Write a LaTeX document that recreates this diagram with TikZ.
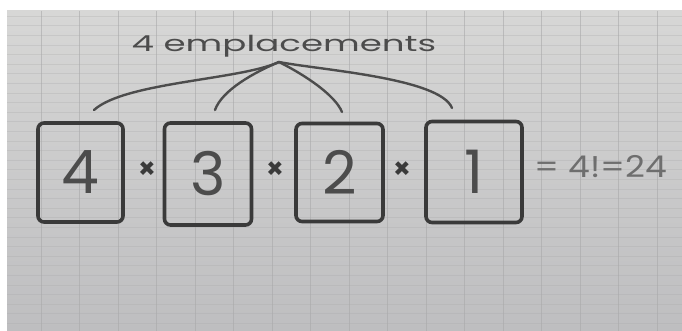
\documentclass[tikz,border=0pt]{standalone}
\usepackage{fontspec}
\setmainfont{Poppins}
\definecolor{paperTop}{HTML}{D7D7D6}
\definecolor{paperBot}{HTML}{BEBEC0}
\definecolor{ink}{HTML}{3A3A3A}
\definecolor{inkB}{HTML}{4C4C4C}
\definecolor{inkL}{HTML}{6E6E6E}
\definecolor{gridc}{HTML}{A9A9AA}
\tikzset{
  slot/.style={draw=ink, line width=3.6pt, rounded corners=6pt, inner sep=0pt},
  digit/.style={text=inkB, font=\fontsize{60}{60}\selectfont},
  times/.style={text=ink, font=\fontsize{28}{28}\selectfont\bfseries, inner sep=0pt},
  brace/.style={draw=inkB, line width=2.4pt, line cap=round},
  gridv/.style={draw=gridc, line width=0.8pt, opacity=0.6},
  gridh/.style={draw=gridc, line width=0.4pt, opacity=0.3},
}
\begin{document}
\begin{tikzpicture}[x=1pt,y=-1pt]
\useasboundingbox (0,0) rectangle (682,331);
\fill[white] (0,0) rectangle (682,331);
\shade[top color=paperTop, bottom color=paperBot] (7,11) rectangle (682,331);
\foreach \y in {16,25.6,...,331} \draw[gridh] (7,\y) -- (682,\y);
\foreach \x in {41,79.5,...,680} \draw[gridv] (\x,11) -- (\x,331);

\node[text=inkB, font=\fontsize{22}{22}\selectfont, xscale=1.62, inner sep=0pt] (title) at (284,46) {4 emplacements};

\node[slot, minimum width=85pt, minimum height=99pt] (b1) at (80.5,172.5) {};
\node[slot, minimum width=87pt, minimum height=102pt] (b2) at (208,174) {};
\node[slot, minimum width=87pt, minimum height=98pt] (b3) at (339.5,172.5) {};
\node[slot, minimum width=96pt, minimum height=101pt] (b4) at (474,172) {};

\node[digit] (d1) at (b1.center) {4};
\node[digit] (d2) at (b2.center) {3};
\node[digit] (d3) at (b3.center) {2};
\node[digit] (d4) at (b4.center) {1};

\node[times] (t1) at (147,170) {×};
\node[times] (t2) at (275,170) {×};
\node[times] (t3) at (402,170) {×};

\node[text=inkL, font=\fontsize{30}{30}\selectfont, anchor=west, xscale=1.15, inner sep=0pt] (eq) at (534,167) {= 4!=24};

\coordinate (j) at (279,62);
\coordinate (e1) at (94,110);
\coordinate (e2) at (215,110);
\coordinate (e3) at (342,112);
\coordinate (e4) at (452,108);
\draw[brace] (j) .. controls (240,80) and (125,82) .. (e1);
\draw[brace] (j) .. controls (255,72) and (222,90) .. (e2);
\draw[brace] (j) .. controls (305,75) and (335,95) .. (e3);
\draw[brace] (j) .. controls (320,70) and (440,78) .. (e4);
\end{tikzpicture}
\end{document}
